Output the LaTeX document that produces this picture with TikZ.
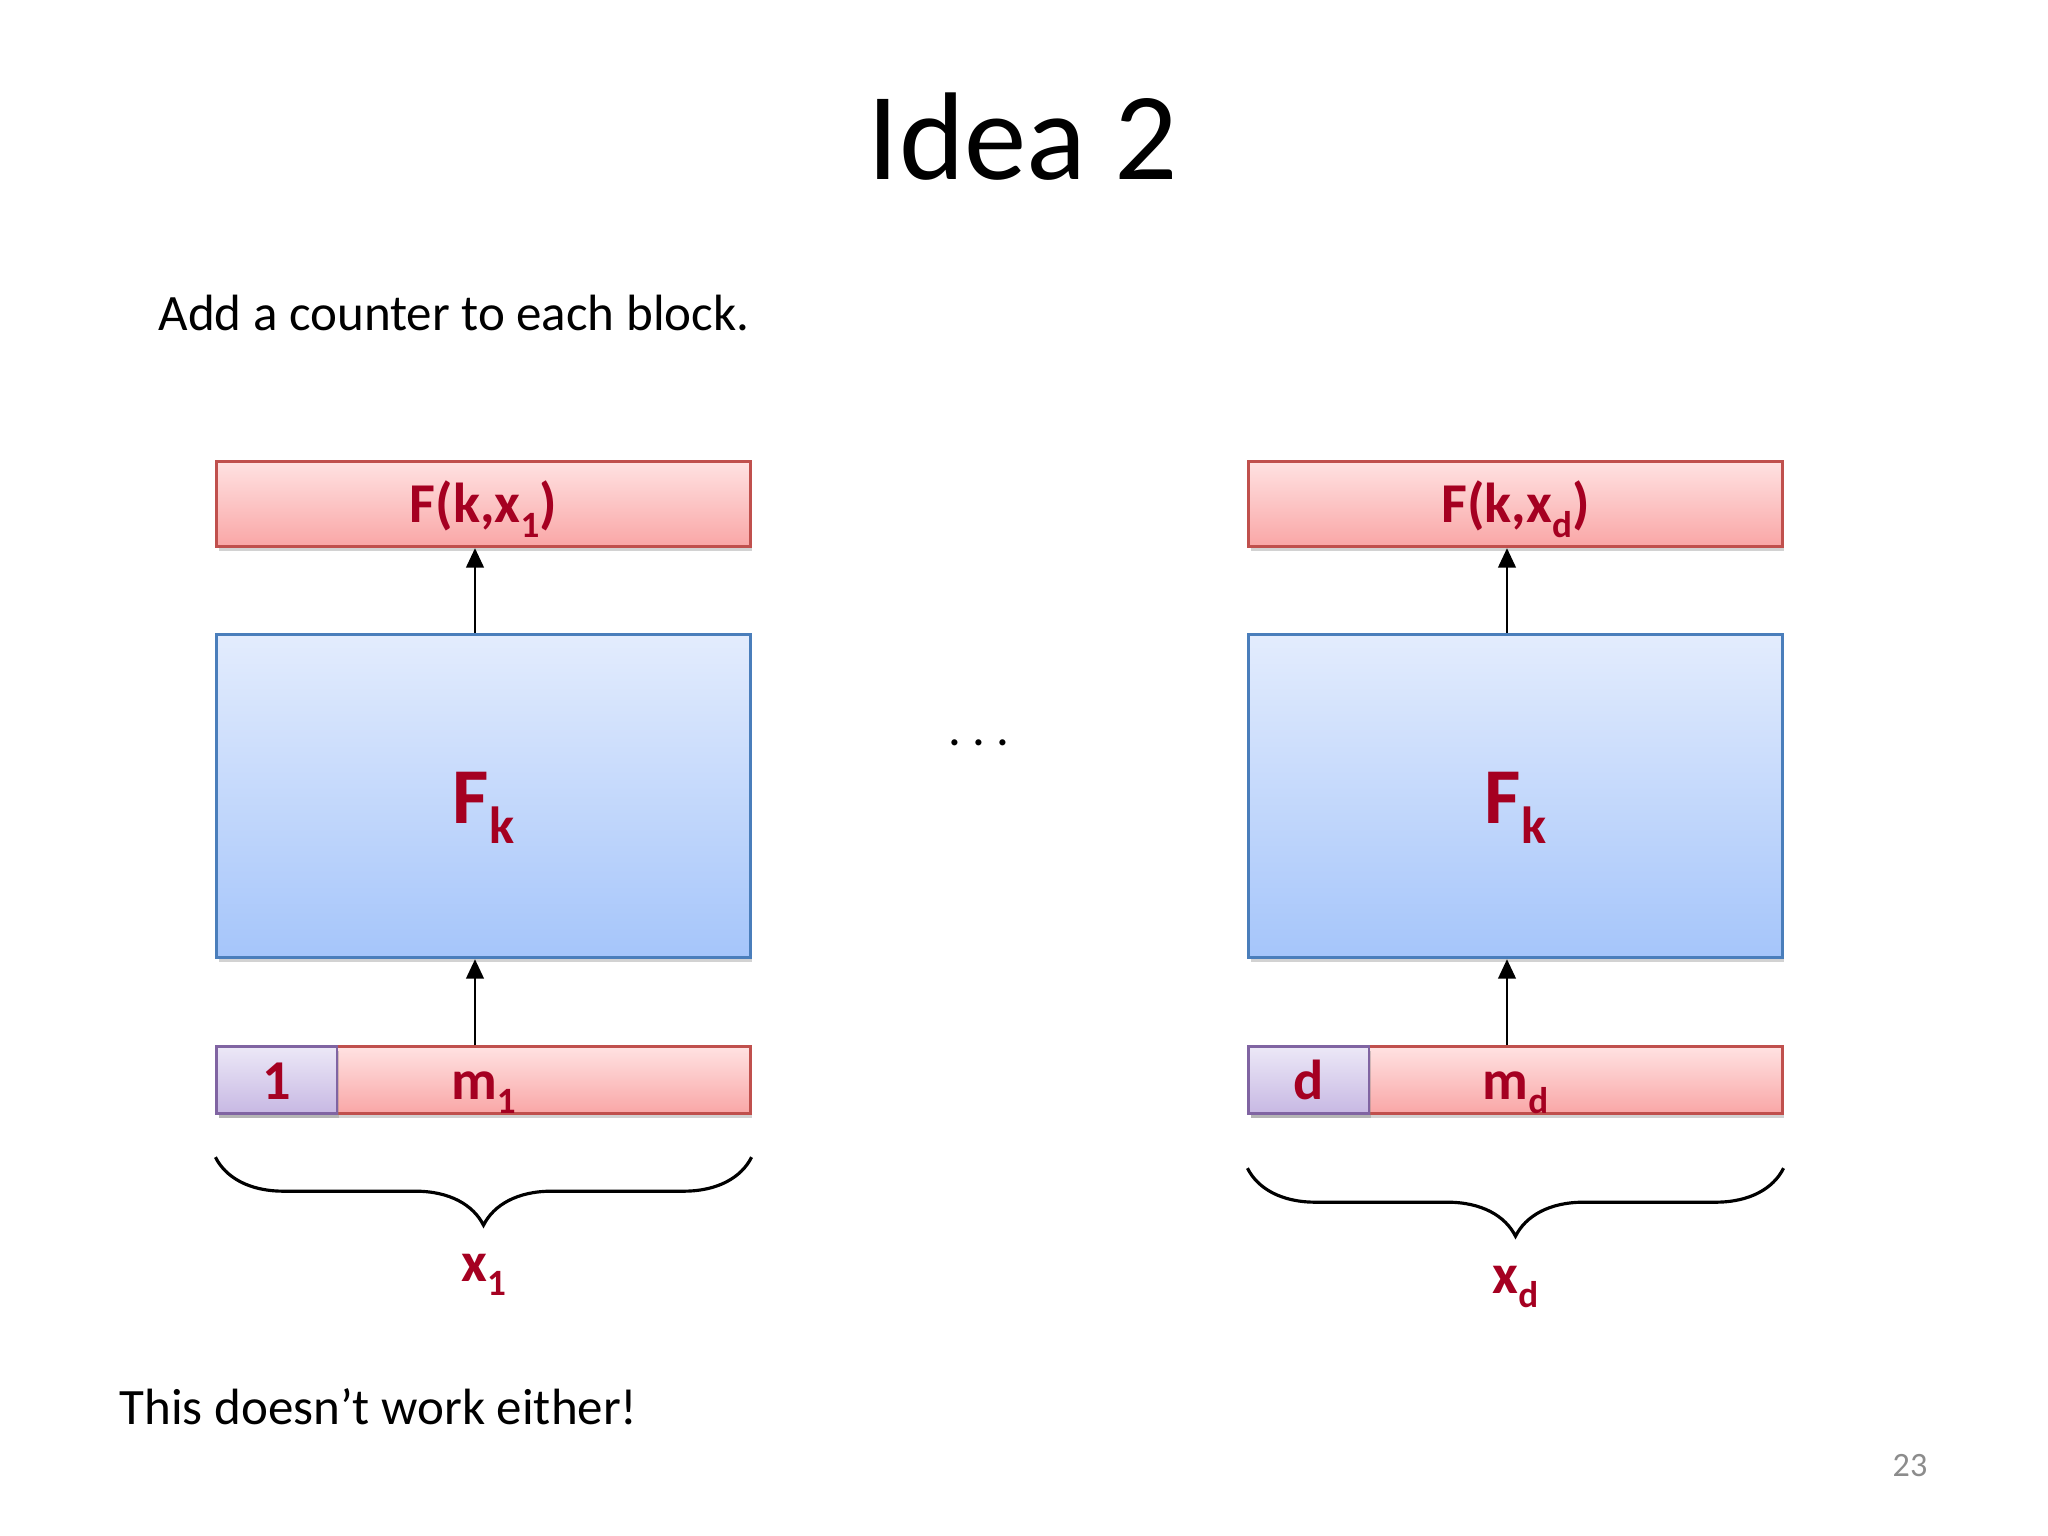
\documentclass[tikz,border=0pt]{standalone}
\usepackage{fontspec}
\setmainfont{Carlito}
\usetikzlibrary{positioning,arrows.meta,shadows,decorations.pathreplacing}

\definecolor{boxred}{HTML}{C0504D}
\definecolor{redtop}{HTML}{FFE2E2}
\definecolor{redbot}{HTML}{F9A6A6}
\definecolor{blueline}{HTML}{4A7EBB}
\definecolor{bluetop}{HTML}{E3ECFD}
\definecolor{bluebot}{HTML}{A5C5FA}
\definecolor{violetline}{HTML}{8064A2}
\definecolor{violettop}{HTML}{ECE8F7}
\definecolor{violetbot}{HTML}{C7B8E3}
\definecolor{labelred}{HTML}{A50021}
\definecolor{pagegray}{HTML}{8C8C8C}

% lowered subscript as on the slide
\makeatletter
\newcommand{\subtxt}[1]{\raisebox{-0.25em}{\fontsize{\fpeval{0.66*\f@size}}{1}\selectfont #1}}
\makeatother

\begin{document}
\begin{tikzpicture}[x=0.01cm, y=-0.01cm,
    boxshadow/.style={drop shadow={shadow xshift=0.5pt, shadow yshift=-1.3pt, opacity=0.35}},
    outbox/.style={draw=boxred, line width=0.8pt, top color=redtop, bottom color=redbot,
      minimum width=5.33cm, minimum height=0.855cm, inner sep=0pt, boxshadow,
      text=labelred, font=\fontsize{16}{19}\selectfont\bfseries,
      text height=11.4pt, text depth=0.6pt},
    fkbox/.style={draw=blueline, line width=0.8pt, top color=bluetop, bottom color=bluebot,
      minimum width=5.33cm, minimum height=3.23cm, inner sep=0pt, boxshadow,
      text=labelred, font=\fontsize{22.5}{27}\selectfont\bfseries,
      text height=16pt, text depth=0.6pt},
    msgbox/.style={outbox, minimum height=0.67cm},
    ctrbox/.style={msgbox, draw=violetline, top color=violettop, bottom color=violetbot,
      minimum width=1.2cm},
    xlabel/.style={text=labelred, font=\fontsize{16}{19}\selectfont\bfseries, inner sep=0pt},
    body/.style={font=\fontsize{14.5}{17}\selectfont, inner sep=0pt},
    arr/.style={line width=0.6pt, -{Triangle[length=5.5pt, width=5pt]}},
    curly/.style={line width=0.9pt, decorate, decoration={brace, mirror, amplitude=0.68cm}}]
  \fill[white] (0,0) rectangle (2048,1536);
  \useasboundingbox (0,0) rectangle (2048,1536);

  \node[font=\fontsize{35.5}{42}\selectfont, inner sep=0pt, anchor=base] (title) at (1023,179) {Idea 2};
  \node[body, anchor=base west] (intro) at (158,330) {Add a counter to each block.};

  % first block
  \node[outbox] (out1) at (483.5,504) {F(k,x\subtxt{1})};
  \node[fkbox, below=0.85cm of out1] (fk1) {F\subtxt{k}};
  \node[msgbox, below=0.86cm of fk1] (msg1) {m\subtxt{1}};
  \node[ctrbox, anchor=west] (ctr1) at (msg1.west) {1};
  \draw[arr] ([xshift=-0.085cm]fk1.north) -- ([xshift=-0.085cm]out1.south);
  \draw[arr] ([xshift=-0.085cm]msg1.north) -- ([xshift=-0.085cm]fk1.south);
  \draw[curly] ([yshift=-0.42cm]msg1.south west) -- ([yshift=-0.42cm]msg1.south east);
  \node[xlabel, anchor=base] (x1) at (483.5,1281) {x\subtxt{1}};

  \node[body, anchor=base] (dots) at (979,745) {.\ .\ .};

  % last block
  \node[outbox] (outd) at (1515.5,504) {F(k,x\subtxt{d})};
  \node[fkbox, below=0.85cm of outd] (fkd) {F\subtxt{k}};
  \node[msgbox, below=0.86cm of fkd] (msgd) {m\subtxt{d}};
  \node[ctrbox, anchor=west] (ctrd) at (msgd.west) {d};
  \draw[arr] ([xshift=-0.085cm]fkd.north) -- ([xshift=-0.085cm]outd.south);
  \draw[arr] ([xshift=-0.085cm]msgd.north) -- ([xshift=-0.085cm]fkd.south);
  \draw[curly] ([yshift=-0.53cm]msgd.south west) -- ([yshift=-0.53cm]msgd.south east);
  \node[xlabel, anchor=base] (xd) at (1515.5,1293) {x\subtxt{d}};

  \node[body, anchor=base west] (remark) at (119,1424) {This doesn’t work either!};
  \node[font=\fontsize{9.7}{12}\selectfont, text=pagegray, inner sep=0pt, anchor=base west] (pagenum) at (1892,1476) {23};
\end{tikzpicture}
\end{document}
